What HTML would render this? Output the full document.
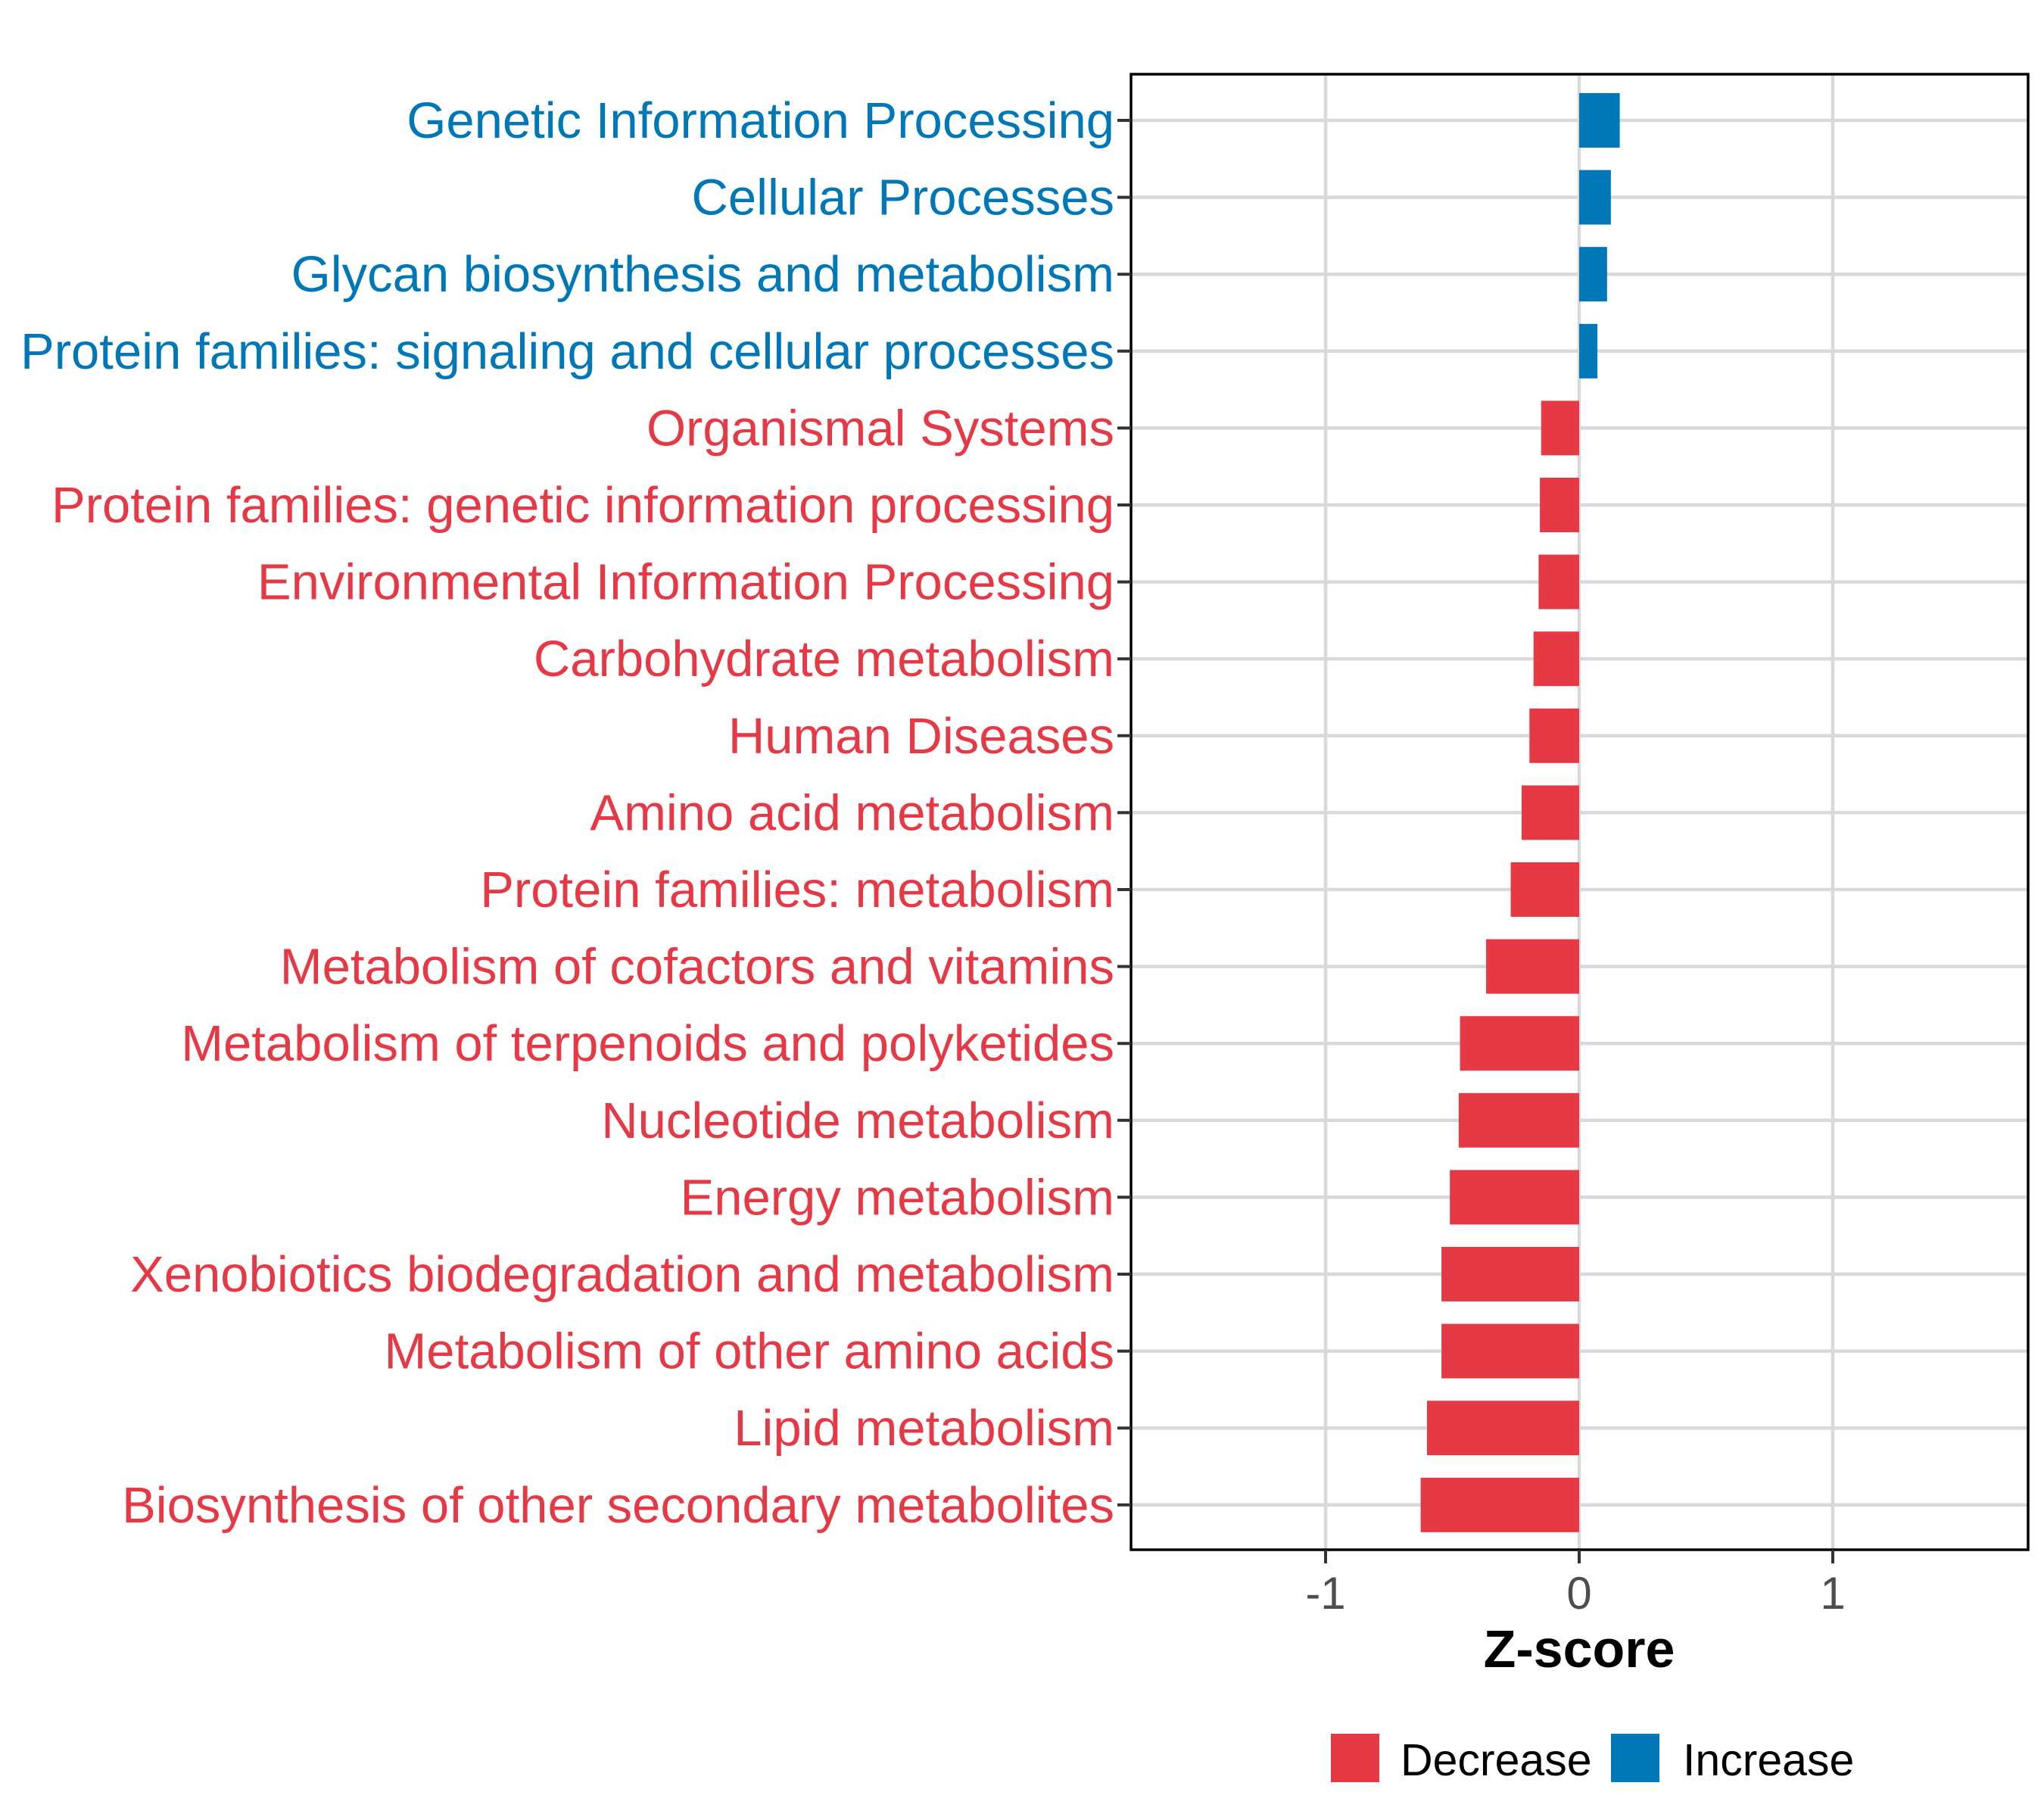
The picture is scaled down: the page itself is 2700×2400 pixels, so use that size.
<!DOCTYPE html>
<html><head><meta charset="utf-8"><style>
html,body{margin:0;padding:0;background:#fff;}
svg{display:block;font-family:"Liberation Sans",Arial,sans-serif;}
</style></head><body>
<svg id="chart" width="2700" height="2400" viewBox="0 0 2700 2400" xmlns="http://www.w3.org/2000/svg">
<g id="grid"></g>
<g id="bars"></g>
<rect x="1494" y="98" width="1185" height="1949" fill="none" stroke="#000" stroke-width="3.5"/>
<g id="ylabels"></g>
<g id="xticks"></g>
<text x="2086" y="2202" text-anchor="middle" font-size="70" font-weight="bold" fill="#000">Z-score</text>
<g>
<rect x="1758" y="2290" width="64" height="64" fill="#E63946"/>
<text x="1850" y="2345" font-size="59" fill="#000">Decrease</text>
<rect x="2128" y="2290" width="64" height="64" fill="#0077B6"/>
<text x="2223" y="2345" font-size="59" fill="#000">Increase</text>
</g>
</svg>
<script>
const categories = ["Genetic Information Processing","Cellular Processes","Glycan biosynthesis and metabolism","Protein families: signaling and cellular processes","Organismal Systems","Protein families: genetic information processing","Environmental Information Processing","Carbohydrate metabolism","Human Diseases","Amino acid metabolism","Protein families: metabolism","Metabolism of cofactors and vitamins","Metabolism of terpenoids and polyketides","Nucleotide metabolism","Energy metabolism","Xenobiotics biodegradation and metabolism","Metabolism of other amino acids","Lipid metabolism","Biosynthesis of other secondary metabolites"];
const zscores = [0.16,0.125,0.11,0.072,-0.15,-0.155,-0.16,-0.18,-0.196,-0.227,-0.27,-0.367,-0.47,-0.475,-0.51,-0.543,-0.543,-0.6,-0.625];
const xTicks = [-1,0,1];
const xTickLabels = ["-1","0","1"];

const NS="http://www.w3.org/2000/svg";
const X0=2086, XU=335, Y0=159, YS=101.6, BH=72;
const PL=1494, PR=2679, PT=98, PB=2047;
const RED="#E63946", BLUE="#0077B6";
function xs(v){return X0+v*XU;}
function ys(i){return Y0+i*YS;}
function mk(tag,attrs,parent){const e=document.createElementNS(NS,tag);for(const k in attrs)e.setAttribute(k,attrs[k]);parent.appendChild(e);return e;}
const grid=document.getElementById('grid'), bars=document.getElementById('bars'), yl=document.getElementById('ylabels'), xt=document.getElementById('xticks');
xTicks.forEach((t,i)=>{
  const l=mk('line',{x1:xs(t),x2:xs(t),y1:PT,y2:PB,stroke:'#d9d9d9','stroke-width':4.5},grid);
  
  
  const tk=mk('line',{x1:xs(t),x2:xs(t),y1:PB,y2:PB+18,stroke:'#333','stroke-width':4},xt);
  
  
  const tx=mk('text',{x:xs(t),y:PB+78,'text-anchor':'middle','font-size':60,fill:'#4d4d4d'},xt);
  tx.textContent=xTickLabels[i];
  
  
});
categories.forEach((c,i)=>{
  const y=ys(i), v=zscores[i], col=v>=0?BLUE:RED;
  const g=mk('line',{x1:PL,x2:PR,y1:y,y2:y,stroke:'#d9d9d9','stroke-width':4.5},grid);
  
  
  const x1=Math.min(xs(0),xs(v)), w=Math.abs(xs(v)-xs(0));
  const b=mk('rect',{x:x1,y:y-BH/2,width:w,height:BH,fill:col},bars);
  
  
  const tk=mk('line',{x1:PL-18,x2:PL,y1:y,y2:y,stroke:'#333','stroke-width':4},yl);
  
  
  const t=mk('text',{x:1472,y:y+23,'text-anchor':'end','font-size':67,fill:col},yl);
  t.textContent=c;
  
  
});
</script>
</body></html>
